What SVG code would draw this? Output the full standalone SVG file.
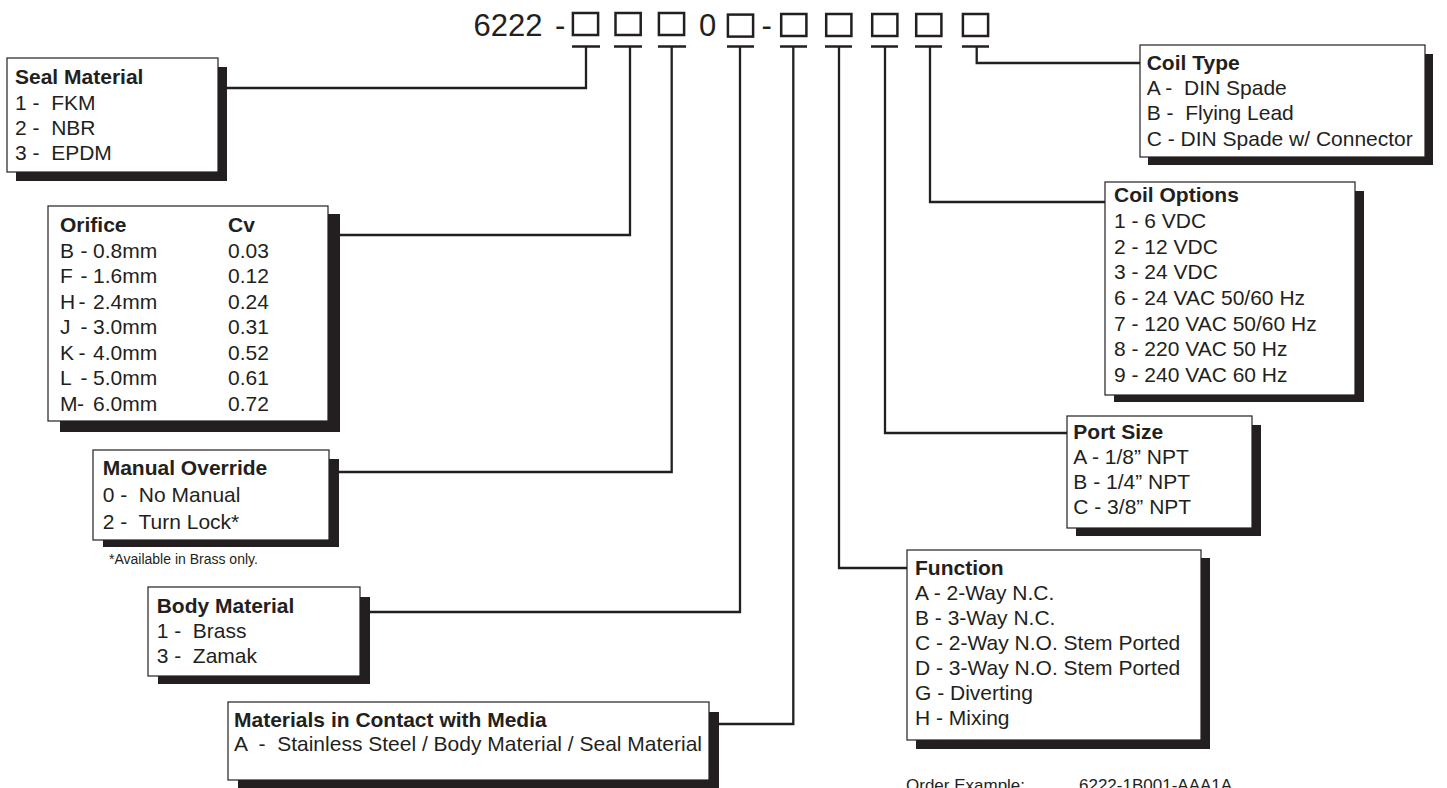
<svg xmlns="http://www.w3.org/2000/svg" width="1447" height="788" viewBox="0 0 1447 788">
<style>
text{font-family:"Liberation Sans",Arial,sans-serif;fill:#231f20;white-space:pre}
.t{font-size:21px}
.b{font-size:21px;font-weight:bold}
.h{font-size:31px}
.s{font-size:14px}
.o{font-size:17px}
.box{fill:#fff;stroke:#231f20;stroke-width:1.2}
.sh{fill:#231f20}
.slot{fill:none;stroke:#231f20;stroke-width:2.5}
.c{fill:none;stroke:#231f20;stroke-width:2.3}
</style>
<g id="header">
<text class="h" x="473.5" y="36">6222</text>
<text class="h" x="555" y="36">-</text>
<text class="h" x="699" y="36">0</text>
<text class="h" x="761.5" y="36">-</text>
<rect class="slot" x="572.9" y="13" width="25.2" height="22"/>
<rect class="slot" x="615.5" y="13" width="25.2" height="22"/>
<rect class="slot" x="658.9" y="13" width="25.2" height="22"/>
<rect class="slot" x="727.9" y="14.6" width="25.2" height="22"/>
<rect class="slot" x="781.2" y="14" width="25.2" height="22"/>
<rect class="slot" x="826.2" y="14" width="25.2" height="22"/>
<rect class="slot" x="872.2" y="14" width="25.2" height="22"/>
<rect class="slot" x="916.2" y="14" width="25.2" height="22"/>
<rect class="slot" x="962.9" y="14" width="25.2" height="22"/>
</g>
<g id="connectors">
<path class="c" d="M572 46.5H600M586 46.5V88H227"/>
<path class="c" d="M614 46.5H642M630 46.5V235H338"/>
<path class="c" d="M658 46.5H686M671.7 46.5V472H339"/>
<path class="c" d="M727 46.5H754M740 46.5V612H370"/>
<path class="c" d="M780 46.5H807M793.3 46.5V724H719"/>
<path class="c" d="M825 46.5H852M839 46.5V568H907"/>
<path class="c" d="M871 46.5H898M885 46.5V433H1067"/>
<path class="c" d="M915 46.5H942M930 46.5V202H1105"/>
<path class="c" d="M962 46.5H989M976.7 46.5V63H1140"/>
</g>
<g id="seal-material">
<rect class="sh" x="16" y="67" width="211" height="114"/>
<rect class="box" x="7" y="58" width="211" height="114"/>
<text class="b" x="15" y="84">Seal Material</text>
<text class="t" x="15" y="109.5">1 -  FKM</text>
<text class="t" x="15" y="134.5">2 -  NBR</text>
<text class="t" x="15" y="159.5">3 -  EPDM</text>
</g>
<g id="orifice">
<rect class="sh" x="60" y="214" width="280" height="218"/>
<rect class="box" x="48" y="206" width="280" height="215"/>
<text class="b" x="60" y="232">Orifice</text>
<text class="b" x="228" y="232">Cv</text>
<text class="t" x="60" y="257.5">B</text><text class="t" x="80.5" y="257.5">-</text><text class="t" x="93" y="257.5">0.8mm</text><text class="t" x="228" y="257.5">0.03</text>
<text class="t" x="60" y="283">F</text><text class="t" x="80.5" y="283">-</text><text class="t" x="93" y="283">1.6mm</text><text class="t" x="228" y="283">0.12</text>
<text class="t" x="60" y="308.5">H</text><text class="t" x="78.5" y="308.5">-</text><text class="t" x="93" y="308.5">2.4mm</text><text class="t" x="228" y="308.5">0.24</text>
<text class="t" x="60" y="334">J</text><text class="t" x="80.5" y="334">-</text><text class="t" x="93" y="334">3.0mm</text><text class="t" x="228" y="334">0.31</text>
<text class="t" x="60" y="359.5">K</text><text class="t" x="78.5" y="359.5">-</text><text class="t" x="93" y="359.5">4.0mm</text><text class="t" x="228" y="359.5">0.52</text>
<text class="t" x="60" y="385">L</text><text class="t" x="80.5" y="385">-</text><text class="t" x="93" y="385">5.0mm</text><text class="t" x="228" y="385">0.61</text>
<text class="t" x="60" y="410.5">M</text><text class="t" x="77" y="410.5">-</text><text class="t" x="93" y="410.5">6.0mm</text><text class="t" x="228" y="410.5">0.72</text>
</g>
<g id="manual-override">
<rect class="sh" x="103" y="459" width="236" height="88"/>
<rect class="box" x="93" y="450" width="236" height="90"/>
<text class="b" x="102.7" y="475">Manual Override</text>
<text class="t" x="102.7" y="502">0 -  No Manual</text>
<text class="t" x="102.7" y="529">2 -  Turn Lock*</text>
<text class="s" x="109" y="564">*Available in Brass only.</text>
</g>
<g id="body-material">
<rect class="sh" x="158" y="597" width="212" height="87"/>
<rect class="box" x="148" y="587" width="212" height="89"/>
<text class="b" x="156.7" y="613">Body Material</text>
<text class="t" x="156.7" y="638">1 -  Brass</text>
<text class="t" x="156.7" y="663">3 -  Zamak</text>
</g>
<g id="materials-in-contact">
<rect class="sh" x="238" y="712" width="481" height="80"/>
<rect class="box" x="228" y="702" width="481" height="78"/>
<text class="b" x="234" y="727">Materials in Contact with Media</text>
<text class="t" x="234" y="751">A  -  Stainless Steel / Body Material / Seal Material</text>
</g>
<g id="function">
<rect class="sh" x="916" y="558" width="294" height="191"/>
<rect class="box" x="907" y="550" width="294" height="190"/>
<text class="b" x="915" y="575">Function</text>
<text class="t" x="915" y="600">A - 2-Way N.C.</text>
<text class="t" x="915" y="625">B - 3-Way N.C.</text>
<text class="t" x="915" y="650">C - 2-Way N.O. Stem Ported</text>
<text class="t" x="915" y="675">D - 3-Way N.O. Stem Ported</text>
<text class="t" x="915" y="700">G - Diverting</text>
<text class="t" x="915" y="725">H - Mixing</text>
</g>
<g id="port-size">
<rect class="sh" x="1076" y="425" width="185" height="111"/>
<rect class="box" x="1067" y="416" width="185" height="112"/>
<text class="b" x="1073.3" y="439">Port Size</text>
<text class="t" x="1073.3" y="464">A - 1/8” NPT</text>
<text class="t" x="1073.3" y="489">B - 1/4” NPT</text>
<text class="t" x="1073.3" y="514">C - 3/8” NPT</text>
</g>
<g id="coil-options">
<rect class="sh" x="1114" y="191" width="250" height="211"/>
<rect class="box" x="1105" y="182" width="250" height="213"/>
<text class="b" x="1114" y="202">Coil Options</text>
<text class="t" x="1114" y="228">1 - 6 VDC</text>
<text class="t" x="1114" y="253.5">2 - 12 VDC</text>
<text class="t" x="1114" y="279">3 - 24 VDC</text>
<text class="t" x="1114" y="305">6 - 24 VAC 50/60 Hz</text>
<text class="t" x="1114" y="330.5">7 - 120 VAC 50/60 Hz</text>
<text class="t" x="1114" y="356">8 - 220 VAC 50 Hz</text>
<text class="t" x="1114" y="381.5">9 - 240 VAC 60 Hz</text>
</g>
<g id="coil-type">
<rect class="sh" x="1148" y="54" width="285" height="111"/>
<rect class="box" x="1140" y="45" width="285" height="112"/>
<text class="b" x="1146.7" y="70">Coil Type</text>
<text class="t" x="1146.7" y="94.5">A -  DIN Spade</text>
<text class="t" x="1146.7" y="120">B -  Flying Lead</text>
<text class="t" x="1146.7" y="146">C - DIN Spade w/ Connector</text>
</g>
<g id="order-example">
<text class="o" x="906" y="791">Order Example:</text>
<text class="o" x="1079" y="791">6222-1B001-AAA1A</text>
</g>
</svg>
